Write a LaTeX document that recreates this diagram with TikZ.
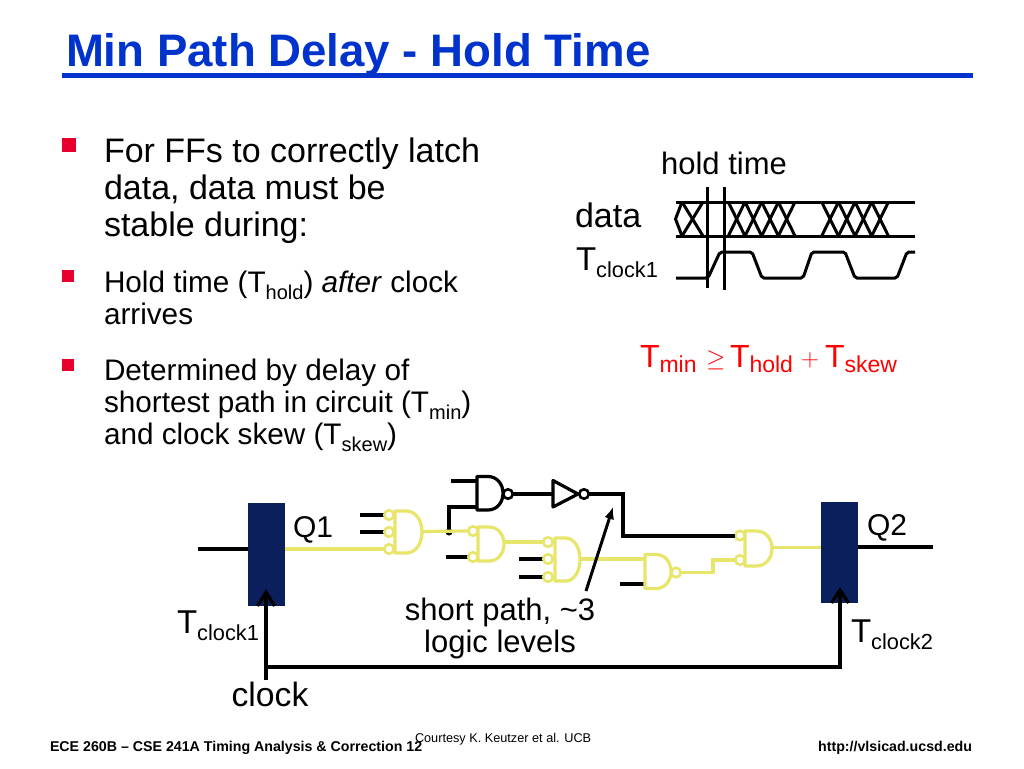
\documentclass[tikz,border=0pt]{standalone}
\usepackage{fontspec}
\setmainfont{Liberation Sans}
\usetikzlibrary{arrows.meta}
\definecolor{titleblue}{HTML}{0033CC}
\definecolor{navy}{HTML}{0A1F5C}
\definecolor{ylw}{HTML}{E8E66A}
\definecolor{bulletred}{HTML}{E6002B}
\newcommand\fsz[1]{\fontsize{#1}{#1}\selectfont}
\newcommand\subs[2]{\raisebox{-0.24em}{\fsz{#1}#2}}
\newcommand\subf[2]{\raisebox{-0.17em}{\fsz{#1}#2}}
\tikzset{
  txt/.style={inner sep=0pt,outer sep=0pt,anchor=base west},
  txtc/.style={inner sep=0pt,outer sep=0pt,anchor=base},
  txtr/.style={inner sep=0pt,outer sep=0pt,anchor=base east},
  wire/.style={line width=3.2pt,black},
  ywire/.style={line width=3.2pt,ylw},
  wavepen/.style={line width=3pt,black},
  gatey/.style={line width=3.2pt,draw=ylw,fill=white,line join=round},
  gatek/.style={line width=3.2pt,draw=black,fill=white,line join=round},
  buby/.style={circle,draw=ylw,fill=white,line width=2.6pt,minimum size=9.5pt,inner sep=0pt,outer sep=0pt},
  bubk/.style={circle,draw=black,fill=white,line width=2.6pt,minimum size=9.5pt,inner sep=0pt,outer sep=0pt},
  ffbox/.style={draw=none,fill=navy,inner sep=0pt,outer sep=0pt},
  bulletbox/.style={fill=bulletred,inner sep=0pt,outer sep=0pt},
}
% style, left, top, bottom, tip
\newcommand\gatebody[5]{%
  \pgfmathsetmacro\gm{#2+(#5-#2)*0.42}%
  \pgfmathsetmacro\gc{(#3+#4)/2}%
  \pgfmathsetmacro\gh{(#4-#3)/2}%
  \pgfmathsetmacro\gw{#5-\gm}%
  \path[#1] (#2,#3) -- (\gm,#3) .. controls (\gm+\gw*0.6,#3) and (#5,\gc-\gh*0.55) .. (#5,\gc)
     .. controls (#5,\gc+\gh*0.55) and (\gm+\gw*0.6,#4) .. (\gm,#4) -- (#2,#4) -- cycle;}
\begin{document}
\begin{tikzpicture}[x=1pt,y=-1pt]
\useasboundingbox (0,0) rectangle (1024,768);
\fill[white] (0,0) rectangle (1024,768);

% Title
\node[txt,text=titleblue] (title) at (66,66.5) {\fsz{45.6}\bfseries Min Path Delay - Hold Time};
\coordinate (ulL) at (62,75.5);
\coordinate (ulR) at (973,75.5);
\draw[line width=4.5pt,titleblue] (ulL) -- (ulR);

% Bullets
\node[bulletbox,minimum width=14pt,minimum height=14pt] (b1) at (69,145) {};
\node[bulletbox,minimum width=12pt,minimum height=12pt] (b2) at (68,276) {};
\node[bulletbox,minimum width=12pt,minimum height=12pt] (b3) at (68,365) {};
\node[txt] (t1a) at (104,162) {\fsz{34}For FFs to correctly latch};
\node[txt] (t1b) at (104,199) {\fsz{34}data, data must be};
\node[txt] (t1c) at (104,236) {\fsz{34}stable during:};
\node[txt] (t2a) at (104,292.5) {\fsz{29.7}Hold time (T\subs{20}{hold}) \textit{after} clock};
\node[txt] (t2b) at (104,324.5) {\fsz{29.7}arrives};
\node[txt] (t3a) at (104,380.5) {\fsz{29.7}Determined by delay of};
\node[txt] (t3b) at (104,412.5) {\fsz{29.7}shortest path in circuit (T\subs{20}{min})};
\node[txt] (t3c) at (104,444.5) {\fsz{29.7}and clock skew (T\subs{20}{skew})};

% Timing diagram
\node[txtc] (holdt) at (724,174) {\fsz{31}hold time};
\node[txt] (datal) at (575,227) {\fsz{34}data};
\node[txt] (tclk) at (576,270) {\fsz{33}T\subs{21.8}{clock1}};
\coordinate (dtL) at (676,202); \coordinate (dtR) at (915,202);
\coordinate (dbL) at (676,236); \coordinate (dbR) at (915,236);
\draw[wavepen] (dtL) -- (dtR);
\draw[wavepen] (dbL) -- (dbR);
\draw[wavepen,line join=round] (682,202) -- (675.5,219) -- (682,236);
\foreach \xs in {682,728.3,745,761.7,778.3,821.7,838.4,855,871.7}{
  \pgfmathsetmacro\xe{\xs+(\xs==682?21:16.7)}
  \draw[wavepen] (\xs,202) -- (\xe,236);
  \draw[wavepen] (\xs,236) -- (\xe,202);
}
\coordinate (v1t) at (707,187); \coordinate (v1b) at (707,288);
\coordinate (v2t) at (724,187); \coordinate (v2b) at (724,290);
\draw[wavepen] (v1t) -- (v1b);
\draw[wavepen] (v2t) -- (v2b);
\draw[wavepen,rounded corners=2pt] (676,278) -- (708,278) -- (720,252) -- (752,252) -- (762,278) -- (803,278) -- (812,252) -- (845,252) -- (855,278) -- (897,278) -- (907,252) -- (915,252);

% Formula
\node[txt,text=red] (fmin) at (640,367) {\fsz{32}T\subf{23}{min}};
\node[txt,text=red] (fge) at (706,366) {\fsz{23}$\geq$};
\node[txt,text=red] (fhold) at (730,367) {\fsz{32}T\subf{23}{hold}};
\node[txt,text=red] (fplus) at (801,366) {\fsz{23}$+$};
\node[txt,text=red] (fskew) at (825,367) {\fsz{32}T\subf{23}{skew}};

% Flip-flops
\node[ffbox,minimum width=37pt,minimum height=103pt] (ff1) at (266.5,554.5) {};
\node[ffbox,minimum width=37pt,minimum height=101pt] (ff2) at (839.5,552.5) {};
\node[txt] (q1) at (293,537) {\fsz{30}Q1};
\node[txt] (q2) at (867,535) {\fsz{30}Q2};
\node[txt] (tc1) at (177,633) {\fsz{33}T\subs{21.8}{clock1}};
\node[txt] (tc2) at (851,642) {\fsz{33}T\subs{21.8}{clock2}};
\node[txtc] (clk) at (270,706) {\fsz{33.7}clock};
\node[txtc] (sp1) at (500,620) {\fsz{31}short path, \textasciitilde3};
\node[txtc] (sp2) at (500,652) {\fsz{31}logic levels};

% Clock wiring
\coordinate (c1end) at (266,680);
\coordinate (c1j) at (266,667);
\coordinate (c2j) at (840,667);
\coordinate (c1tip) at (266,592);
\coordinate (c2tip) at (840,590);
\draw[wire] (c1end) -- (c1tip);
\draw[wire] (c1j) -- (c2j) -- (c2tip);
\draw[wire,line join=miter] (257.5,606) -- (c1tip) -- (274.5,606);
\draw[wire,line join=miter] (831.5,603) -- (c2tip) -- (848.5,603);
\coordinate (din) at (198,549);
\draw[wire] (din) -- (ff1.west |- din);
\coordinate (qout) at (933,547);
\draw[wire] (ff2.east |- qout) -- (qout);

% Black gates
\gatebody{gatek}{477}{476.5}{510}{503}
\node[bubk] (nb) at (508,494) {};
\path[gatek] (553,480.5) -- (553,507) -- (578,494) -- cycle;
\coordinate (invin) at (553,494);
\coordinate (invtip) at (578,494);
\node[bubk] (ib) at (584,494) {};
\coordinate (nin1) at (477,481); \coordinate (nin1s) at (451,481);
\coordinate (nin2) at (477,507); \coordinate (dot) at (449,532);
\draw[wire] (nin1s) -- (nin1);
\draw[wire] (nin2) -- (nin2 -| dot) -- (dot);
\fill (dot) circle (3.5pt);
\draw[wire] (nb.east) -- (invin);
\coordinate (bk1) at (623,494);
\coordinate (bk2) at (623,536);

% Black stubs
\foreach \a/\b/\y in {360/385/515,360/385/532,446/469/557,519/544/559,519/544/577,620/645/584}{
  \draw[wire] (\a,\y) -- (\b,\y);
}

% Yellow path
\gatebody{gatey}{395}{511}{553}{422}
\gatebody{gatey}{478}{527}{561}{504}
\gatebody{gatey}{555}{538}{581}{580}
\gatebody{gatey}{645}{554.5}{588.5}{671}
\gatebody{gatey}{745}{531}{566}{772}
\foreach \n/\x/\y in {a1/389/515,a2/389/532,a3/389/549,b1i/473/531,b2i/473/557,c1/548/542,c2/548/559,c3/548/577,e1/740/535.5,e2/740/560}{
  \node[buby] (\n) at (\x,\y) {};
}
\node[buby] (db) at (676,572.5) {};
\coordinate (g1o) at (422,531.5);
\coordinate (g2o) at (504,542);
\coordinate (g3o) at (580,559);
\coordinate (g4i) at (645,559);
\coordinate (g5o) at (772,547.5);
\draw[ywire] (ff1.east |- din) -- (a3.west);
\draw[ywire] (g1o) -- (b1i.west);
\draw[ywire] (g2o) -- (c1.west);
\draw[ywire] (g3o) -- (g4i);
\draw[ywire] (db.east) -- (713,572.5) -- (713,560) -- (e2.west);
\draw[ywire] (g5o) -- (ff2.west |- g5o);
\draw[wire] (ib.east) -- (bk1) -- (bk2) -- (e1.west |- bk2);

% Arrow
\coordinate (arS) at (586,591);
\coordinate (arE) at (613,507);
\draw[line width=3pt,-{Latex[length=12pt,width=10pt]}] (arS) -- (arE);

% Footer
\node[txt] (fl) at (50,751) {\fsz{14.2}\bfseries ECE 260B – CSE 241A Timing Analysis \& Correction 12};
\node[txt] (fc) at (415,742) {\fsz{12.7}Courtesy K. Keutzer et al. UCB};
\node[txtr] (fr) at (972,751) {\fsz{14.2}\bfseries http://vlsicad.ucsd.edu};
\end{tikzpicture}
\end{document}
